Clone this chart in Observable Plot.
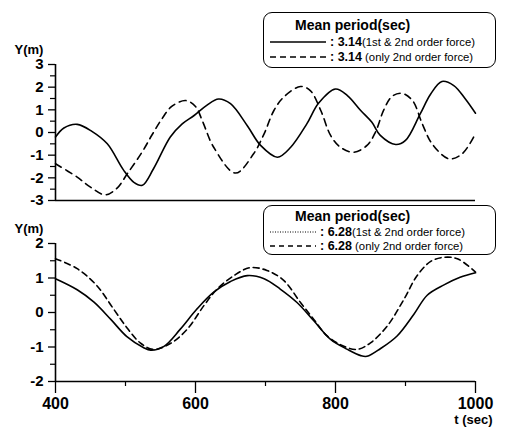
<!DOCTYPE html>
<html>
<head>
<meta charset="utf-8">
<script src="https://cdn.jsdelivr.net/npm/d3@7"></script>
<script src="https://cdn.jsdelivr.net/npm/@observablehq/plot@0.6"></script>
<style>
  html, body { margin: 0; padding: 0; background: #fff; }
  #wrap { position: relative; width: 506px; height: 434px; font-family: "Liberation Sans", Arial, sans-serif; }
  #wrap svg { display: block; }
  .legend { position: absolute; background: #fff; border: 1.5px solid #000; border-radius: 9px; box-sizing: border-box; color: #000; }
  .legend .title { font-weight: bold; font-size: 14px; text-align: left; line-height: 15px; padding-left: 31px; }
  .legend .row { display: flex; align-items: center; height: 12px; line-height: 12px; white-space: nowrap; }
  .legend .row svg { flex: none; }
  .legend .val { font-weight: bold; font-size: 12.5px; white-space: pre; }
  .legend .desc { font-size: 11.3px; white-space: pre; }
</style>
</head>
<body>
<div id="wrap"></div>
<script>
// Sway response, mean period 3.14 s
const topSolidT = [400, 412, 431, 452, 474, 497, 512, 524, 540, 564, 581, 598, 616, 633, 650, 674, 693, 717, 736, 759, 776, 800, 817, 836, 852, 864, 886, 900, 921, 936, 952, 969, 985, 1000];
const topSolidY = [-0.2, 0.2, 0.36, 0.05, -0.5, -1.65, -2.2, -2.33, -1.6, -0.2, 0.38, 0.75, 1.2, 1.48, 1.27, 0.3, -0.57, -1.09, -0.65, 0.38, 1.3, 1.92, 1.63, 0.97, 0.45, -0.13, -0.53, -0.35, 0.82, 1.7, 2.25, 2.07, 1.5, 0.85];
const topDashT = [400, 431, 450, 471, 488, 503, 524, 538, 552, 566, 586, 600, 610, 626, 657, 683, 698, 712, 726, 750, 764, 779, 793, 807, 826, 845, 857, 869, 881, 895, 910, 924, 938, 962, 981, 1000];
const topDashY = [-1.38, -1.97, -2.41, -2.75, -2.45, -1.8, -0.85, -0.1, 0.6, 1.15, 1.41, 1.15, 0.5, -0.65, -1.79, -0.94, -0.06, 0.97, 1.56, 2.03, 1.85, 0.97, -0.13, -0.65, -0.87, -0.57, 0.01, 1.0, 1.6, 1.73, 1.41, 0.38, -0.5, -1.16, -0.94, -0.05];

// Sway response, mean period 6.28 s
const botSolidT = [400, 431, 455, 479, 502, 526, 536, 555, 578, 602, 626, 650, 674, 698, 721, 745, 769, 793, 817, 836, 845, 864, 888, 912, 931, 955, 978, 1000];
const botSolidY = [0.98, 0.66, 0.3, -0.2, -0.7, -1.02, -1.09, -0.98, -0.49, 0.1, 0.59, 0.9, 1.07, 0.98, 0.68, 0.29, -0.24, -0.78, -1.07, -1.25, -1.27, -1.05, -0.68, -0.05, 0.5, 0.8, 1.02, 1.15];
const botDashT = [400, 431, 459, 483, 502, 521, 540, 564, 588, 612, 631, 655, 678, 702, 726, 750, 769, 788, 812, 831, 850, 874, 898, 916, 936, 955, 975, 1000];
const botDashY = [1.56, 1.27, 0.78, 0.1, -0.44, -0.88, -1.07, -0.9, -0.49, 0.2, 0.68, 1.07, 1.3, 1.22, 0.93, 0.29, -0.2, -0.68, -0.98, -1.07, -0.88, -0.39, 0.39, 1.05, 1.48, 1.6, 1.55, 1.17];

const topYTicks = [-3, -2, -1, 0, 1, 2, 3];
const topYMinor = [-2.5, -1.5, -0.5, 0.5, 1.5, 2.5];
const botYTicks = [-2, -1, 0, 1, 2];
const botYMinor = [-1.5, -0.5, 0.5, 1.5];
const xMajor = [400, 600, 800, 1000];
const xMinor = [500, 700, 900];

const legendTop = { title: "Mean period(sec)", rows: [
  { val: ": 3.14", desc: "(1st & 2nd order force)", dash: null },
  { val: ": 3.14", desc: " (only 2nd order force)", dash: "6,4" }
]};
const legendBot = { title: "Mean period(sec)", rows: [
  { val: ": 6.28", desc: "(1st & 2nd order force)", dash: "1,1.5" },
  { val: ": 6.28", desc: " (only 2nd order force)", dash: "5,4" }
]};

const zip = (ts, ys) => ts.map((t, i) => ({t, y: ys[i]}));
const font = "Liberation Sans, Arial, sans-serif";
const plain = d => String(d);

function panel({height, marginTop, marginBottom, yDomain, yTicks, yMinor, solid, dashed, dashPattern, bottomAxis}) {
  const marks = [
    Plot.axisY({ticks: yTicks, tickSize: 7, tickPadding: 5, tickFormat: plain, fontSize: 15, fontWeight: "bold", label: null, strokeWidth: 1.3}),
    Plot.axisY({ticks: yMinor, tickSize: 5, tickFormat: () => "", label: null, strokeWidth: 1.2}),
    Plot.ruleX([400], {strokeWidth: 1.6}),
    Plot.ruleY([yDomain[0]], {strokeWidth: 1.6}),
    Plot.line(solid, {x: "t", y: "y", curve: "catmull-rom", strokeWidth: 1.6, stroke: "#000"}),
    Plot.line(dashed, {x: "t", y: "y", curve: "catmull-rom", strokeWidth: 1.6, stroke: "#000", strokeDasharray: dashPattern}),
    Plot.text(["Y(m)"], {frameAnchor: "top-left", dx: -41, dy: -20, fontSize: 13, fontWeight: "bold", textAnchor: "start"})
  ];
  if (bottomAxis) {
    marks.push(
      Plot.axisX({ticks: xMajor, tickSize: 12, tickPadding: 4, tickFormat: plain, fontSize: 16, fontWeight: "bold", label: null, strokeWidth: 1.3}),
      Plot.axisX({ticks: xMinor, tickSize: 5, tickFormat: () => "", label: null, strokeWidth: 1.2}),
      Plot.text(["t (sec)"], {frameAnchor: "bottom-right", dx: 17, dy: 42, fontSize: 13, fontWeight: "bold", textAnchor: "end"})
    );
  }
  return Plot.plot({
    width: 506, height,
    marginLeft: 55, marginRight: 31, marginTop, marginBottom,
    style: {fontFamily: font, color: "#000", background: "#fff", overflow: "visible"},
    x: {domain: [400, 1000], axis: null},
    y: {domain: yDomain, axis: null},
    marks
  });
}

function legend(spec, box) {
  const el = document.createElement("div");
  el.className = "legend";
  Object.assign(el.style, {left: box.left + "px", top: box.top + "px", width: box.width + "px", height: box.height + "px", paddingTop: box.pad + "px"});
  const title = document.createElement("div");
  title.className = "title";
  title.textContent = spec.title;
  el.appendChild(title);
  for (const r of spec.rows) {
    const row = document.createElement("div");
    row.className = "row";
    row.style.marginTop = box.gap + "px";
    const svg = d3.create("svg").attr("width", box.sample + 10).attr("height", 12);
    svg.append("line").attr("x1", 6).attr("x2", box.sample + 6).attr("y1", 6).attr("y2", 6)
      .attr("stroke", "#000").attr("stroke-width", r.dash === "1,1.5" ? 1 : 1.3)
      .attr("stroke-dasharray", r.dash);
    row.appendChild(svg.node());
    const v = document.createElement("span"); v.className = "val"; v.textContent = r.val;
    const d = document.createElement("span"); d.className = "desc"; d.textContent = r.desc;
    row.appendChild(v); row.appendChild(d);
    el.appendChild(row);
  }
  return el;
}

const wrap = document.getElementById("wrap");
wrap.appendChild(panel({
  height: 205, marginTop: 64, marginBottom: 5, yDomain: [-3, 3], yTicks: topYTicks, yMinor: topYMinor,
  solid: zip(topSolidT, topSolidY), dashed: zip(topDashT, topDashY), dashPattern: "7,5", bottomAxis: false
}));
wrap.appendChild(panel({
  height: 229, marginTop: 38, marginBottom: 53, yDomain: [-2, 2], yTicks: botYTicks, yMinor: botYMinor,
  solid: zip(botSolidT, botSolidY), dashed: zip(botDashT, botDashY), dashPattern: "6,4", bottomAxis: true
}));
wrap.appendChild(legend(legendTop, {left: 263, top: 12, width: 233, height: 56, pad: 5, gap: 3, sample: 56}));
wrap.appendChild(legend(legendBot, {left: 263, top: 205, width: 233, height: 50, pad: 3, gap: 2, sample: 46}));
</script>
</body>
</html>
